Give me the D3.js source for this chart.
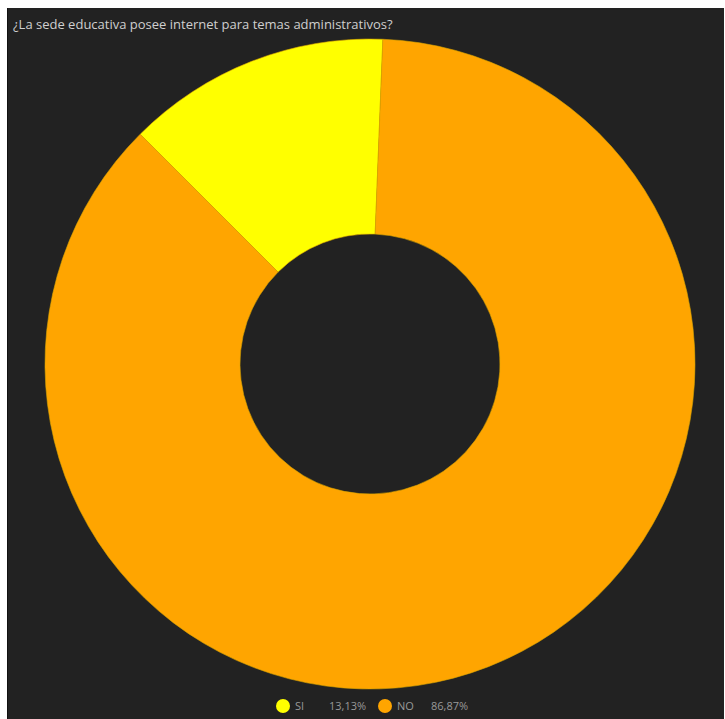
<!DOCTYPE html>
<html>
<head>
<meta charset="utf-8">
<script src="https://cdn.jsdelivr.net/npm/d3@7"></script>
<style>
  body { margin: 0; background: #ffffff; }
</style>
</head>
<body>
<script>
const categories = ["SI", "NO"];
const values = [13.13, 86.87];
const labels = ["13,13%", "86,87%"];
const colors = ["#ffff00", "#ffa500"];

const W = 725, H = 719;

const svg = d3.select("body")
              .append("svg")
              .attr("width", W)
              .attr("height", H);

// Dark panel
svg.append("rect")
   .attr("x", 7).attr("y", 8)
   .attr("width", 717).attr("height", 711)
   .style("fill", "#222222");
svg.append("line")
   .attr("x1", 7.5).attr("x2", 7.5)
   .attr("y1", 8).attr("y2", H)
   .style("stroke", "#111111");

svg.append("text")
   .attr("x", 13)
   .attr("y", 29)
   .attr("font-family", "Open Sans")
   .attr("font-size", 13)
   .style("fill", "#cfcfcf")
   .text("¿La sede educativa posee internet para temas administrativos?");

// Donut
const cx = 370, cy = 364, rOuter = 325, rInner = 130;
const start = -45 * Math.PI / 180;

const pie = d3.pie()
              .sort(null)
              .startAngle(start)
              .endAngle(start + 2 * Math.PI);

const arc = d3.arc()
              .innerRadius(rInner)
              .outerRadius(rOuter);

const g = svg.append("g").attr("transform", `translate(${cx},${cy})`);
g.selectAll("path")
 .data(pie(values))
 .enter()
 .append("path")
 .attr("d", arc)
 .style("fill", (d, i) => colors[i])
 .style("stroke", "#d9a400")
 .style("stroke-width", 0.6);

// Legend
const legendX = [283, 385];
const legend = svg.append("g");
categories.forEach((c, i) => {
    legend.append("circle")
          .attr("cx", legendX[i])
          .attr("cy", 706)
          .attr("r", 7)
          .style("fill", colors[i]);
    legend.append("text")
          .attr("x", legendX[i] + 12)
          .attr("y", 710)
          .attr("font-family", "Open Sans")
          .attr("font-size", 11)
          .style("fill", "#999999")
          .text(c);
    legend.append("text")
          .attr("x", legendX[i] + 46)
          .attr("y", 710)
          .attr("font-family", "Open Sans")
          .attr("font-size", 11)
          .style("fill", "#999999")
          .text(labels[i]);
});
</script>
</body>
</html>
